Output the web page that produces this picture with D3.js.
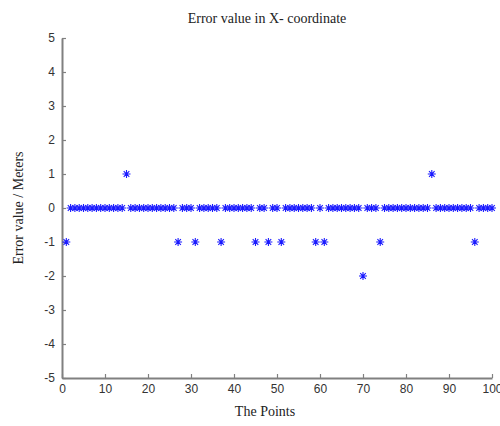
<!DOCTYPE html>
<html>
<head>
<meta charset="utf-8">
<script src="https://cdn.jsdelivr.net/npm/d3@7"></script>
<style>
  body { margin: 0; background: #fff; }
  svg { display: block; }
</style>
</head>
<body>
<div id="chart"></div>
<script>
// error values for points 1..100
const errorValues = [
  -1, 0, 0, 0, 0, 0, 0, 0, 0, 0,
   0, 0, 0, 0, 1, 0, 0, 0, 0, 0,
   0, 0, 0, 0, 0, 0,-1, 0, 0, 0,
  -1, 0, 0, 0, 0, 0,-1, 0, 0, 0,
   0, 0, 0, 0,-1, 0, 0,-1, 0, 0,
  -1, 0, 0, 0, 0, 0, 0, 0,-1, 0,
  -1, 0, 0, 0, 0, 0, 0, 0, 0,-2,
   0, 0, 0,-1, 0, 0, 0, 0, 0, 0,
   0, 0, 0, 0, 0, 1, 0, 0, 0, 0,
   0, 0, 0, 0, 0,-1, 0, 0, 0, 0
];
const xTicks = [0, 10, 20, 30, 40, 50, 60, 70, 80, 90, 100];
const yTicks = [-5, -4, -3, -2, -1, 0, 1, 2, 3, 4, 5];

const width = 500, height = 426;
const margin = {top: 38, right: 8, bottom: 48, left: 62};

const svg = d3.select("#chart").append("svg")
    .attr("width", width)
    .attr("height", height);

const x = d3.scaleLinear().domain([0, 100]).range([margin.left, width - margin.right]);
const y = d3.scaleLinear().domain([-5, 5]).range([height - margin.bottom, margin.top]);

const axisColor = "#808080";

// x axis, ticks pointing inward
const gx = svg.append("g")
    .attr("transform", `translate(0,${y(-5)})`)
    .call(d3.axisBottom(x).tickValues(xTicks).tickSizeInner(-4).tickSizeOuter(0).tickPadding(6)
      .tickFormat(d3.format("d")));

const gy = svg.append("g")
    .attr("transform", `translate(${x(0)},0)`)
    .call(d3.axisLeft(y).tickValues(yTicks).tickSizeInner(-4).tickSizeOuter(0).tickPadding(7)
      .tickFormat(d => String(d)));

[gx, gy].forEach(g => {
  g.select(".domain").attr("stroke", axisColor).attr("stroke-width", 2);
  g.selectAll(".tick line").attr("stroke", axisColor).attr("stroke-width", 1.2);
  g.selectAll(".tick text")
    .attr("fill", "#333")
    .attr("font-family", "Liberation Sans, Arial, sans-serif")
    .attr("font-size", 12);
});

// star markers
const r = 4;
const starPath = `M${-r},0H${r}M0,${-r}V${r}M${-r*0.7},${-r*0.7}L${r*0.7},${r*0.7}M${-r*0.7},${r*0.7}L${r*0.7},${-r*0.7}`;

svg.append("g")
    .selectAll("path")
    .data(errorValues)
    .join("path")
    .attr("transform", (d, i) => `translate(${x(i + 1)},${y(d)})`)
    .attr("d", starPath)
    .attr("stroke", "#1a1aff")
    .attr("stroke-width", 1.1)
    .attr("fill", "none");

const serif = "Liberation Serif, Times New Roman, serif";

svg.append("text")
    .attr("x", 267)
    .attr("y", 23)
    .attr("text-anchor", "middle")
    .attr("font-family", serif)
    .attr("font-size", 14)
    .attr("fill", "#222")
    .text("Error value in X- coordinate");

svg.append("text")
    .attr("x", 265)
    .attr("y", 416)
    .attr("text-anchor", "middle")
    .attr("font-family", serif)
    .attr("font-size", 14)
    .attr("fill", "#222")
    .text("The Points");

svg.append("text")
    .attr("transform", `translate(23,${y(0)}) rotate(-90)`)
    .attr("text-anchor", "middle")
    .attr("font-family", serif)
    .attr("font-size", 14)
    .attr("fill", "#222")
    .text("Error value / Meters");
</script>
</body>
</html>
